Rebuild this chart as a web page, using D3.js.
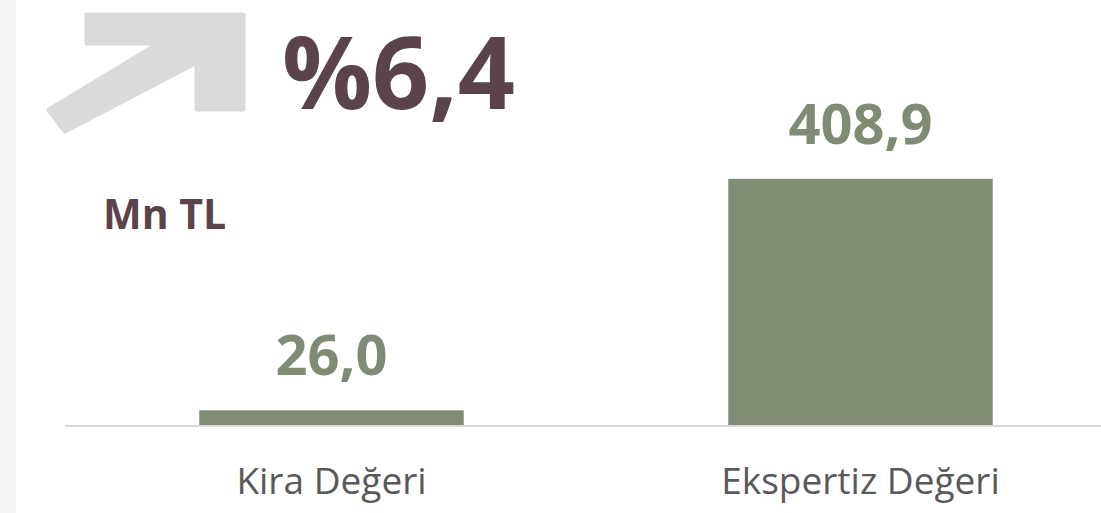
<!DOCTYPE html>
<html>
<head>
<meta charset="utf-8">
<script src="https://cdn.jsdelivr.net/npm/d3@7"></script>
<style>
  html, body { margin: 0; padding: 0; background: #fff; }
  svg { display: block; font-family: "Open Sans", sans-serif; }
</style>
</head>
<body>
<div id="chart"></div>
<script>
var categories = ['Kira Değeri', 'Ekspertiz Değeri'];
var values = [26.0, 408.9];
var valueLabels = ['26,0', '408,9'];
var changeLabel = '%6,4';
var unitLabel = 'Mn TL';

var width = 1101, height = 513;

var svg = d3.select('#chart').append('svg')
  .attr('width', width)
  .attr('height', height);

// gray strip on the left edge
svg.append('rect')
  .attr('x', 0).attr('y', 0)
  .attr('width', 16).attr('height', height)
  .attr('fill', '#f4f4f4');

// scales
var x = d3.scaleBand()
  .domain(categories)
  .range([67, 1125])
  .paddingInner(0.5)
  .paddingOuter(0.25);

var y = d3.scaleLinear().domain([0, 450]).range([426, 154]);

// decorative up arrow
svg.append('path')
  .attr('d', 'M87,15 L243,15 L243,109 L197,109 L197,62 L65,131 L49,110 L160,43 L87,43 Z')
  .attr('fill', '#dcd9da')
  .attr('stroke', '#dcd9da')
  .attr('stroke-width', 5)
  .attr('stroke-linejoin', 'round');

svg.append('text')
  .attr('x', 282).attr('y', 109)
  .attr('font-size', 100)
  .attr('font-weight', 'bold')
  .attr('fill', '#5a434b')
  .text(changeLabel);

svg.append('text')
  .attr('x', 103).attr('y', 229)
  .attr('font-size', 41)
  .attr('font-weight', 'bold')
  .attr('fill', '#5a434b')
  .text(unitLabel);

// bars
svg.selectAll('.bar')
  .data(values)
  .enter().append('rect')
  .attr('class', 'bar')
  .attr('x', function(d, i) { return x(categories[i]); })
  .attr('y', function(d) { return y(d); })
  .attr('width', x.bandwidth())
  .attr('height', function(d) { return y(0) - y(d); })
  .attr('fill', '#818c74');

// baseline
svg.append('line')
  .attr('x1', 65).attr('x2', width)
  .attr('y1', y(0)).attr('y2', y(0))
  .attr('stroke', '#d9d9d9')
  .attr('stroke-width', 2);

// value labels
svg.selectAll('.val')
  .data(values)
  .enter().append('text')
  .attr('class', 'val')
  .attr('x', function(d, i) { return x(categories[i]) + x.bandwidth() / 2; })
  .attr('y', function(d) { return y(d) - 35; })
  .attr('text-anchor', 'middle')
  .attr('font-size', 56)
  .attr('font-weight', 'bold')
  .attr('fill', '#7f8b72')
  .text(function(d, i) { return valueLabels[i]; });

// category labels
svg.selectAll('.cat')
  .data(categories)
  .enter().append('text')
  .attr('class', 'cat')
  .attr('x', function(d) { return x(d) + x.bandwidth() / 2; })
  .attr('y', 494)
  .attr('text-anchor', 'middle')
  .attr('font-size', 37)
  .attr('fill', '#595959')
  .text(function(d) { return d; });
</script>
</body>
</html>
